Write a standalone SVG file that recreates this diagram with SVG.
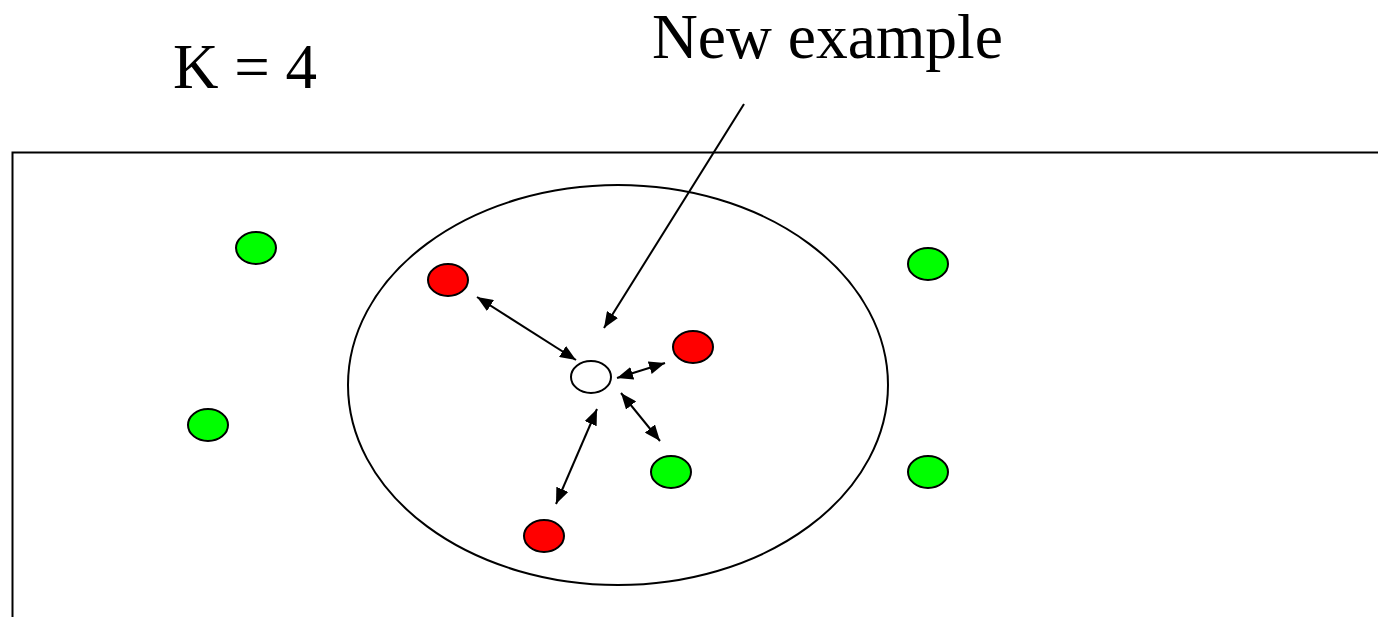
<svg xmlns="http://www.w3.org/2000/svg" width="1378" height="617" viewBox="0 0 1378 617">
<style>
.pt{stroke:#000;stroke-width:2}
.g{fill:#00ff00}
.r{fill:#ff0000}
.w{fill:#fff}
.ln{stroke:#000;stroke-width:2;fill:none}
.lbl{font-family:"Liberation Serif","Times New Roman",serif;fill:#000}
</style>
<defs>
<marker id="ah" viewBox="0 0 16 13" refX="16" refY="6.5" markerWidth="16" markerHeight="13" markerUnits="userSpaceOnUse" orient="auto-start-reverse">
<path d="M0,0 L16,6.5 L0,13 Z" fill="#000"/>
</marker>
</defs>
<rect width="1378" height="617" fill="#fff"/>
<g id="frame">
<path class="ln" d="M12.5,617 V152.5 H1378"/>
</g>
<g id="neighborhood">
<ellipse cx="618" cy="385" rx="270" ry="200" class="ln"/>
</g>
<g id="labels">
<text id="k-label" class="lbl" x="173" y="88" font-size="63">K = 4</text>
<text id="new-example-label" class="lbl" x="652" y="58" font-size="63.5">New example</text>
</g>
<g id="green1"><ellipse cx="256" cy="248" rx="20" ry="16" class="pt g"/></g>
<g id="green2"><ellipse cx="208" cy="425" rx="20" ry="16" class="pt g"/></g>
<g id="green3"><ellipse cx="928" cy="264" rx="20" ry="16" class="pt g"/></g>
<g id="green4"><ellipse cx="928" cy="472" rx="20" ry="16" class="pt g"/></g>
<g id="green5"><ellipse cx="671" cy="472" rx="20" ry="16" class="pt g"/></g>
<g id="red1"><ellipse cx="448" cy="280" rx="20" ry="16" class="pt r"/></g>
<g id="red2"><ellipse cx="693" cy="347" rx="20" ry="16" class="pt r"/></g>
<g id="red3"><ellipse cx="544" cy="536" rx="20" ry="16" class="pt r"/></g>
<g id="new-example"><ellipse cx="591" cy="377" rx="20" ry="16" class="pt w"/></g>
<g id="connectors">
<line class="ln" x1="477" y1="297" x2="576" y2="360" marker-start="url(#ah)" marker-end="url(#ah)"/>
<line class="ln" x1="617" y1="378" x2="665" y2="363" marker-start="url(#ah)" marker-end="url(#ah)"/>
<line class="ln" x1="621" y1="393" x2="660" y2="441" marker-start="url(#ah)" marker-end="url(#ah)"/>
<line class="ln" x1="597" y1="409" x2="556" y2="504" marker-start="url(#ah)" marker-end="url(#ah)"/>
<line class="ln" x1="744" y1="104" x2="604" y2="328" marker-end="url(#ah)"/>
</g>
</svg>
